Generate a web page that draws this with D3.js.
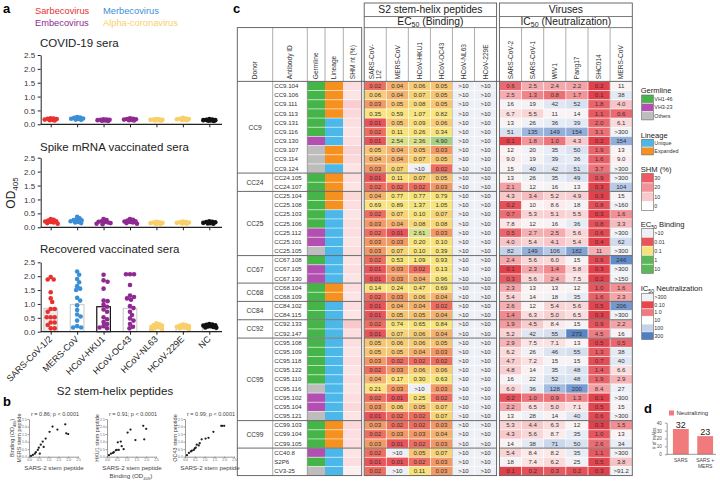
<!DOCTYPE html>
<html><head><meta charset="utf-8">
<script src="https://cdn.jsdelivr.net/npm/d3@7"></script>
<style>
body{margin:0;background:#fff;}
svg{font-family:"Liberation Sans",Arial,sans-serif;}
</style></head><body>
<svg id="c" width="720" height="484"></svg>
<script>
// ================= DATA =================
// Panel a
const catsA = ["SARS-CoV-1/2","MERS-CoV","HCoV-HKU1","HCoV-OC43","HCoV-NL63","HCoV-229E","NC"];
const covidSARS = [0.22,0.20,0.19,0.17,0.16,0.15,0.14,0.21];
const covidMERS = [0.26,0.23,0.21,0.19,0.17,0.16,0.24,0.20];
const covidHKU1 = [0.18,0.16,0.15,0.14,0.13,0.17,0.12,0.16];
const covidOC43 = [0.22,0.20,0.18,0.16,0.15,0.14,0.19,0.17];
const covidNL63 = [0.19,0.17,0.16,0.15,0.14,0.13,0.18,0.16];
const covid229E = [0.23,0.21,0.19,0.17,0.16,0.15,0.20,0.18];
const covidNC   = [0.19,0.17,0.15,0.14,0.13,0.12,0.16,0.15];
const spikeSARS = [0.30,0.27,0.24,0.21,0.19,0.17,0.15,0.13,0.22];
const spikeMERS = [0.38,0.32,0.28,0.25,0.22,0.19,0.17,0.15,0.26];
const spikeHKU1 = [0.30,0.26,0.22,0.19,0.17,0.15,0.13,0.11,0.20];
const spikeOC43 = [0.30,0.27,0.24,0.21,0.19,0.17,0.15,0.13,0.22];
const spikeNL63 = [0.20,0.18,0.16,0.15,0.14,0.13,0.12,0.17];
const spike229E = [0.21,0.19,0.17,0.16,0.15,0.14,0.13,0.18];
const spikeNC   = [0.22,0.20,0.18,0.16,0.15,0.14,0.13,0.19];
const recSARS = [1.97,1.88,1.88,1.42,1.20,1.07,0.82,0.82,0.72,0.52,0.52,0.52,0.33,0.33,0.24,0.12,0.12];
const recMERS = [2.17,2.05,1.90,1.78,1.64,1.55,1.50,1.22,1.12,0.95,0.78,0.62,0.55,0.40,0.20,0.15,0.15];
const recHKU1 = [2.05,1.85,1.80,1.55,1.12,1.10,0.98,0.90,0.80,0.72,0.52,0.45,0.35,0.28,0.20,0.15,0.12];
const recOC43 = [2.07,2.07,2.07,1.68,1.30,1.25,1.20,1.15,0.92,0.85,0.72,0.60,0.48,0.40,0.28,0.18,0.12];
const recNL63 = [0.30,0.27,0.24,0.22,0.20,0.18,0.15,0.12,0.10,0.08];
const rec229E = [0.26,0.24,0.22,0.20,0.18,0.16,0.14,0.12,0.10];
const recNC   = [0.28,0.26,0.25,0.23,0.22,0.20,0.19,0.17,0.15,0.14];
const recBars = [0.84,0.98,0.90,0.84,0.12,0.10,0.17];
const yTicksA = [0,0.5,1,1.5,2,2.5];

// Panel b
const bSARS2 = [0.10,0.20,0.30,0.35,0.45,0.50,0.55,0.60,0.70,0.75,0.85,1.05,1.20,1.45,1.85,1.90,2.00];
const bMERS  = [0.05,0.12,0.20,0.30,0.45,0.60,0.20,0.80,1.00,0.65,1.20,1.65,2.00,1.80,2.15,1.55,1.50];
const bHKU1  = [0.10,0.20,0.25,0.30,0.42,0.45,0.95,0.45,1.00,0.70,0.50,1.60,1.80,1.10,2.05,1.15,1.85];
const bOC43  = [0.10,0.25,0.35,0.40,0.45,0.55,0.60,0.80,0.75,0.90,1.15,1.20,1.25,1.65,2.05,2.05,2.05];
const bTitles = ["r = 0.86; p < 0.0001","r = 0.91; p < 0.0001","r = 0.99; p < 0.0001"];
const bYLabels = ["MERS stem peptide","HKU1 stem peptide","OC43 stem peptide"];

// Panel c
const donorNames = ["CC9","CC24","CC25","CC67","CC68","CC84","CC92","CC95","CC99",""];
const donorSizes = [10,2,7,3,2,2,2,9,3,3];
const antibodyIds = ["CC9.104","CC9.106","CC9.111","CC9.113","CC9.131","CC9.116","CC9.130","CC9.107","CC9.114","CC9.124",
 "CC24.105","CC24.107",
 "CC25.104","CC25.108","CC25.103","CC25.106","CC25.112","CC25.101","CC25.105",
 "CC67.108","CC67.105","CC67.130",
 "CC68.104","CC68.109",
 "CC84.102","CC84.115",
 "CC92.133","CC92.147",
 "CC95.108","CC95.109","CC95.118","CC95.122","CC95.110","CC95.116","CC95.102","CC95.104","CC95.121",
 "CC99.103","CC99.104","CC99.105",
 "CC40.8","S2P6","CV3-25"];
const germline = ["VH1-46","VH1-46","VH1-46","VH1-46","VH1-46","VH1-46","VH3-23","Others","Others","Others",
 "VH1-46","VH1-46",
 "VH1-46","VH1-46","VH1-46","VH1-46","VH3-23","VH3-23","Others",
 "VH1-46","VH3-23","VH3-23",
 "VH1-46","VH1-46",
 "VH1-46","VH1-46",
 "VH1-46","VH1-46",
 "VH1-46","VH1-46","VH1-46","VH1-46","VH1-46","Others","VH3-23","VH3-23","Others",
 "VH1-46","VH1-46","VH1-46",
 "VH3-23","VH1-46","Others"];
const lineage = ["Expanded","Expanded","Expanded","Expanded","Unique","Unique","Unique","Expanded","Expanded","Unique",
 "Expanded","Expanded",
 "Expanded","Expanded","Unique","Unique","Unique","Unique","Unique",
 "Unique","Unique","Unique",
 "Expanded","Expanded",
 "Unique","Unique",
 "Unique","Unique",
 "Unique","Unique","Unique","Unique","Unique","Unique","Unique","Unique","Unique",
 "Expanded","Expanded","Expanded",
 "Unique","Unique","Unique"];
const shm = [6,5,9,7,6,5,6,8,7,5, 6,5, 7,6,5,6,6,5,6, 5,6,5, 6,5, 6,5, 10,6, 6,5,6,5,6,5,6,7,5, 7,6,6, 5,6,3];
const ec50Cols = ["SARS-CoV-1/2","MERS-CoV","HCoV-HKU1","HCoV-OC43","HCoV-NL63","HCoV-229E"];
const ec50SARS = ["0.02","0.06","0.03","0.35","0.01","0.02","0.01","0.05","0.04","0.03","0.01","0.02","0.04","0.69","0.02","0.03","0.02","0.03","0.03","0.02","0.01","0.01","0.14","0.02","0.01","0.01","0.02","0.01","0.05","0.05","0.03","0.02","0.04","0.21","0.02","0.03","0.01","0.03","0.02","0.03","0.02","0.01","0.02"];
const ec50MERS = ["0.04","0.04","0.05","0.59","0.05","0.11","2.54","0.04","0.04","0.07","0.11","0.02","0.77","0.89","0.07","0.04","0.01","0.03","0.07","0.53","0.03","0.03","0.24","0.03","0.04","0.05","0.74","0.07","0.06","0.05","0.02","0.03","0.17","0.03","0.01","0.06","0.02","0.02","0.03","0.01",">10","0.01",">10"];
const ec50HKU1 = ["0.06","0.07","0.08","1.07","0.09","0.26","2.36","0.05","0.07",">10","0.07","0.02","0.77","1.37","0.10","0.08","2.61","0.20","0.10","1.09","0.02","0.04","0.47","0.06","0.04","0.05","0.65","0.06","0.06","0.04","0.02","0.06","0.30",">10","0.25","0.05","0.02","0.02","0.03","0.02","0.05","0.02","0.11"];
const ec50OC43 = ["0.05","0.05","0.05","0.82","0.06","0.34","4.90","0.03","0.05","0.02","0.05","0.03","0.79","1.05","0.07","0.08","0.03","0.10","0.39","0.93","0.13","0.96","0.69","0.04","0.02","0.04","0.84","0.04","0.05","0.03","0.02","0.06","0.63","0.03","0.02","0.07","0.07","0.03","0.04","0.03","0.07","0.03","0.03"];
const ec50NL63 = [">10",">10",">10",">10",">10",">10",">10",">10",">10",">10",">10",">10",">10",">10",">10",">10",">10",">10",">10",">10",">10",">10",">10",">10",">10",">10",">10",">10",">10",">10",">10",">10",">10",">10",">10",">10",">10",">10",">10",">10",">10",">10",">10"];
const ec50_229E = [">10",">10",">10",">10",">10",">10",">10",">10",">10",">10",">10",">10",">10",">10",">10",">10",">10",">10",">10",">10",">10",">10",">10",">10",">10",">10",">10",">10",">10",">10",">10",">10",">10",">10",">10",">10",">10",">10",">10",">10",">10",">10",">10"];
const icCols = ["SARS-CoV-2","SARS-CoV-1","WIV1","Pang17","SHC014","MERS-CoV"];
const icSARS2 = ["0.6","2.5","16","6.7","13","51","0.1","12","9.0","15","13","2.1","4.3","0.2","0.7","7.8","0.5","4.0","82","2.4","0.1","0.3","2.3","5.4","2.6","1.4","1.9","5.2","2.9","6.2","4.7","4.8","16","6.0","0.2","2.2","13","5.3","4.3","14","5.4","18","0.1"];
const icSARS1 = ["2.5","1.3","19","5.5","26","135","1.8","20","19","40","26","12","3.4","10","5.3","12","2.7","5.4","149","5.6","2.3","5.6","13","14","12","6.3","4.5","42","7.5","26","7.2","14","22","36","1.0","6.5","28","4.4","5.6","38","8.4","7.4","0.2"];
const icWIV1  = ["2.4","0.8","42","11","36","149","1.0","35","39","42","35","16","5.2","8.6","5.1","16","2.5","4.1","106","6.0","1.4","2.4","13","18","5.4","5.0","8.4","55","7.1","46","15","35","52","128","0.9","5.0","14","6.3","8.7","71","8.2","6.2","0.3"];
const icPang17= ["2.2","1.7","52","14","39","154","4.3","50","36","51","49","13","4.9","18","5.5","36","5.6","5.4","182","15","5.8","7.5","12","35","5.6","6.5","15","273","13","55","15","48","48","200","1.3","7.1","40","12","35","50","35","25","0.2"];
const icSHC014= ["0.2","0.1","1.8","1.1","2.0","3.1","0.2","1.9","1.6","3.7","0.9","0.3","0.3","0.8","0.3","0.8","0.6","0.4","11","0.6","0.3","0.2","1.0","1.6","0.5","0.3","0.9","4.5","0.5","1.3","0.7","1.4","1.9","8.4","0.1","0.5","0.6","0.3","1.0","2.6","1.1","0.5","0.3"];
const icMERS  = ["11","38","4.0","0.6","6.1",">300","154","13","9.0",">300",">300","104","15",">160","1.6","3.3",">300","62",">300","246",">300",">150","1.6","2.3","206",">300","2.2","16","0.5","38","40","6.6","2.9","27",">300","15",">300","1.5","13","34",">300","3.8",">91.2"];
const germLabels = ["VH1-46","VH3-23","Others"];
const linLabels = ["Unique","Expanded"];
const shmLegend = [30,20,10,0];
const ec50Legend = [">10","0.01","0.1","1","10"];
const icLegend = [">300","0.10","1.0","10","100","300"];

// Panel d
const dCats = ["SARS","SARS + MERS"];
const dVals = [32,23];
const dTicks = [0,10,20,30,40];

// ================= STYLE =================
const colA = ["#e8312f","#3b8fd6","#8e2a91","#8e2a91","#f9cf6a","#f9cf6a","#111111"];
const germColor = {"VH1-46":"#46b549","VH3-23":"#b24fb1","Others":"#bdbdbd"};
const linColor = {"Unique":"#4cb8ea","Expanded":"#f6901e"};
const ec50Scale = d3.scaleLog().domain([0.01,0.02,0.03,0.05,0.1,1.2,2.5,5]).range(["#e9545a","#ee6e60","#f29a66","#f6c674","#f8e27c","#f7e57e","#d9e08c","#a6d082"]).clamp(true);
const icScale = d3.scaleLog().domain([0.1,1,3,10,30,100,300]).range(["#e2404a","#ed767c","#f6b6b9","#fcf3f3","#eef1f7","#bccde8","#4e7ec2"]).clamp(true);
const shmScale = d3.scaleLinear().domain([0,30]).range(["#ffffff","#ee5a64"]);
const ec50LegendColors = ["#eef0f5","#e9545a","#f8e27c","#5db75a","#5db75a"];
const icLegendColors = ["#f1f2f5","#e8454f","#ef7a80","#ffffff","#c5d3ea","#4f7fc2"];
const txt = "#222";

const svg = d3.select("#c");

// ================= PANEL A =================
function swarm(vals, cx, y, minD, maxOff){
  const pts = vals.map(v=>({v, y:y(v)})).sort((a,b)=>b.v-a.v);
  const placed=[]; const step=0.5;
  pts.forEach(p=>{
    let bestX=cx, bestD=-1;
    const n = Math.round(2*maxOff/step);
    for(let k=0;k<=n;k++){
      const off = k===0?0:(k%2?1:-1)*Math.ceil(k/2)*step;
      const x = cx+off;
      const d = placed.length? d3.min(placed,q=>Math.hypot(q.x-x,q.y-p.y)) : Infinity;
      if(d>=minD){bestX=x;bestD=d;break;}
      if(d>bestD){bestD=d;bestX=x;}
    }
    p.x=bestX; placed.push(p);
  });
  return pts;
}
svg.append("text").attr("x",3).attr("y",13).attr("font-size",13).attr("font-weight","bold").text("a");
const legA = [["Sarbecovirus",35,14,colA[0]],["Merbecovirus",103,14,colA[1]],["Embecovirus",35,26,colA[2]],["Alpha-coronavirus",103,26,colA[4]]];
legA.forEach(l=>svg.append("text").attr("x",l[1]).attr("y",l[2]).attr("font-size",9.3).attr("fill",l[3]).text(l[0]));

const xA = d3.scalePoint().domain(catsA).range([50.7,209.3]);
const panelsA = [
 {title:"COVID-19 sera", ty:47, top:55, bottom:124.3, data:[covidSARS,covidMERS,covidHKU1,covidOC43,covidNL63,covid229E,covidNC]},
 {title:"Spike mRNA vaccinated sera", ty:151, top:157.7, bottom:227.3, data:[spikeSARS,spikeMERS,spikeHKU1,spikeOC43,spikeNL63,spike229E,spikeNC]},
 {title:"Recovered vaccinated sera", ty:253, top:262.3, bottom:331.7, data:[recSARS,recMERS,recHKU1,recOC43,recNL63,rec229E,recNC], bars:recBars}
];
const rA = 2.3;
panelsA.forEach(p=>{
  const y = d3.scaleLinear().domain([0,2.5]).range([p.bottom,p.top]);
  const g = svg.append("g");
  g.append("text").attr("x",40).attr("y",p.ty).attr("font-size",11.5).attr("fill",txt).text(p.title);
  if(p.bars){
    g.selectAll(null).data(p.bars).join("rect")
      .attr("x",(d,i)=>xA(catsA[i])-6.8).attr("width",13.6)
      .attr("y",d=>y(d)).attr("height",d=>p.bottom-y(d))
      .attr("fill",(d,i)=>i===0?"#ececec":"none")
      .attr("stroke",(d,i)=>i===2?"#111":"#cfcfcf").attr("stroke-width",1.2);
  }
  p.data.forEach((vals,ci)=>{
    const low = d3.max(vals)<0.5;
    const pts = swarm(vals, xA(catsA[ci]), y, low?rA*1.2:rA*1.65, low?7:10);
    g.selectAll(null).data(pts).join("circle").attr("cx",d=>d.x).attr("cy",d=>d.y).attr("r",rA).attr("fill",colA[ci]);
  });
  const ya = g.append("g").attr("transform","translate(40.7,0)")
    .call(d3.axisLeft(y).tickValues(yTicksA).tickFormat(d3.format(".1f")).tickSize(3).tickSizeOuter(0));
  ya.selectAll("text").attr("font-size",8).attr("fill","#333").attr("dx",0.5);
  ya.selectAll("line,path").attr("stroke","#222").attr("stroke-width",1);
  g.append("line").attr("x1",40.7).attr("x2",222).attr("y1",p.bottom).attr("y2",p.bottom).attr("stroke","#222").attr("stroke-width",1.2);
  const xa = g.append("g").attr("transform",`translate(0,${p.bottom})`)
    .call(d3.axisBottom(xA).tickSize(3).tickFormat(""));
  xa.select(".domain").remove();
  xa.selectAll("line").attr("stroke","#222").attr("stroke-width",1);
  if(p.bars){
    catsA.forEach(c=>{
      svg.append("text").attr("transform",`translate(${xA(c)+2},${p.bottom+8}) rotate(-45)`)
        .attr("text-anchor","end").attr("font-size",9).attr("fill",txt).text(c);
    });
  }
});
const odl = svg.append("text").attr("transform","translate(15,193) rotate(-90)").attr("text-anchor","middle").attr("font-size",12).attr("fill",txt);
odl.append("tspan").text("OD");
odl.append("tspan").attr("font-size",8).attr("dy",3).text("405");
svg.append("text").attr("x",115).attr("y",395).attr("text-anchor","middle").attr("font-size",11.5).attr("fill",txt).text("S2 stem-helix peptides");

// ================= PANEL B =================
svg.append("text").attr("x",3).attr("y",406).attr("font-size",13).attr("font-weight","bold").text("b");
const bLefts = [29,107,185];
const bYs = [bMERS,bHKU1,bOC43];
bLefts.forEach((L,i)=>{
  const x = d3.scaleLinear().domain([0,2.5]).range([L,L+49]);
  const y = d3.scaleLinear().domain([0,2.5]).range([456.7,419]);
  const g = svg.append("g");
  const xa = g.append("g").attr("transform","translate(0,456.7)").call(d3.axisBottom(x).tickValues(yTicksA).tickFormat(d3.format(".1f")).tickSize(1.5).tickSizeOuter(0));
  const ya = g.append("g").attr("transform",`translate(${L},0)`).call(d3.axisLeft(y).tickValues(yTicksA).tickFormat(d3.format(".1f")).tickSize(1.5).tickSizeOuter(0));
  [xa,ya].forEach(a=>{a.selectAll("text").attr("font-size",3.4).attr("fill","#666");a.selectAll("line,path").attr("stroke","#555").attr("stroke-width",0.6);});
  xa.selectAll("text").attr("y",2.2).attr("dy","0.71em");
  ya.selectAll("text").attr("x",-2.2);
  g.selectAll(null).data(bSARS2).join("circle").attr("cx",d=>x(d)).attr("cy",(d,j)=>y(bYs[i][j])).attr("r",1.15).attr("fill","#222");
  g.append("text").attr("x",L+26).attr("y",416).attr("text-anchor","middle").attr("font-size",5.5).attr("fill","#444").text(bTitles[i]);
  g.append("text").attr("transform",`translate(${L-8},438) rotate(-90)`).attr("text-anchor","middle").attr("font-size",5.5).attr("fill","#444").text(bYLabels[i]);
  g.append("text").attr("x",L+25).attr("y",469.5).attr("text-anchor","middle").attr("font-size",6.2).attr("fill","#444").text("SARS-2 stem peptide");
});
const bl1 = svg.append("text").attr("transform","translate(14,438) rotate(-90)").attr("text-anchor","middle").attr("font-size",5.5).attr("fill","#444");
bl1.append("tspan").text("Binding (OD"); bl1.append("tspan").attr("font-size",3.8).attr("dy",1.5).text("405"); bl1.append("tspan").attr("dy",-1.5).text(")");
const bl2 = svg.append("text").attr("x",131).attr("y",478).attr("text-anchor","middle").attr("font-size",6.2).attr("fill","#444");
bl2.append("tspan").text("Binding (OD"); bl2.append("tspan").attr("font-size",4.2).attr("dy",1.5).text("405"); bl2.append("tspan").attr("dy",-1.5).text(")");

// ================= PANEL C =================
svg.append("text").attr("x",233).attr("y",13).attr("font-size",13).attr("font-weight","bold").text("c");
const rowTop=81.4, rowBot=475.6, hdrTop=27.6, boxTop=3, midLine=16.5;
const yR = d3.scaleBand().domain(antibodyIds).range([rowTop,rowBot]);
const rh = yR.bandwidth();
const xE = d3.scaleBand().domain(ec50Cols).range([364.2,496.6]);
const xV = d3.scaleBand().domain(icCols).range([499.4,632.3]);
const leftEdges = [237.3,272.7,307.3,325,343.3,361.7];
const leftHdr = ["Donor","Antibody ID","Germline","Lineage","SHM nt (%)"];
const gc = svg.append("g");

function parseV(s){return s.startsWith(">")?null:+s;}
antibodyIds.forEach((id,i)=>{
  const y0 = yR(id);
  gc.append("rect").attr("x",leftEdges[2]).attr("y",y0).attr("width",leftEdges[3]-leftEdges[2]).attr("height",rh).attr("fill",germColor[germline[i]]);
  gc.append("rect").attr("x",leftEdges[3]).attr("y",y0).attr("width",leftEdges[4]-leftEdges[3]).attr("height",rh).attr("fill",linColor[lineage[i]]);
  gc.append("rect").attr("x",leftEdges[4]).attr("y",y0).attr("width",leftEdges[5]-leftEdges[4]).attr("height",rh).attr("fill",shmScale(shm[i]));
  gc.append("line").attr("x1",leftEdges[2]).attr("x2",leftEdges[5]).attr("y1",y0).attr("y2",y0).attr("stroke","#fff").attr("stroke-width",0.7).attr("opacity",0.8);
  gc.append("text").attr("x",274.3).attr("y",y0+rh/2+2.1).attr("font-size",6.1).attr("fill","#333").text(id);
});
const ec50Data = [ec50SARS,ec50MERS,ec50HKU1,ec50OC43,ec50NL63,ec50_229E];
ec50Data.forEach((arr,ci)=>{
  const x0 = xE(ec50Cols[ci]), w = xE.bandwidth();
  arr.forEach((s,i)=>{
    const v = parseV(s), y0=yR(antibodyIds[i]);
    gc.append("rect").attr("x",x0+0.35).attr("y",y0+0.35).attr("width",w-0.7).attr("height",rh-0.7)
      .attr("fill",v===null?"#eef0f5":ec50Scale(v));
    gc.append("text").attr("x",x0+w/2).attr("y",y0+rh/2+2.1).attr("text-anchor","middle").attr("font-size",6.1).attr("fill","#333").text(s);
  });
});
const icData = [icSARS2,icSARS1,icWIV1,icPang17,icSHC014,icMERS];
icData.forEach((arr,ci)=>{
  const x0 = xV(icCols[ci]), w = xV.bandwidth();
  arr.forEach((s,i)=>{
    const v = parseV(s), y0=yR(antibodyIds[i]);
    const fill = v===null?"#f2f3f6":icScale(icCols[ci]==="SHC014"? v*0.25 : v);
    gc.append("rect").attr("x",x0+0.35).attr("y",y0+0.35).attr("width",w-0.7).attr("height",rh-0.7).attr("fill",fill);
    gc.append("text").attr("x",x0+w/2).attr("y",y0+rh/2+2.1).attr("text-anchor","middle").attr("font-size",6.1).attr("fill","#333").text(s);
  });
});
let acc=0;
const lineCol="#5a5a5a";
donorSizes.forEach((n,k)=>{
  const yTop = yR(antibodyIds[acc]);
  const yB = yTop + n*rh;
  gc.append("text").attr("x",(leftEdges[0]+leftEdges[1])/2).attr("y",(yTop+yB)/2+2.3).attr("text-anchor","middle").attr("font-size",6.6).attr("fill","#333").text(donorNames[k]);
  if(k<donorSizes.length-1){
    [[leftEdges[0],leftEdges[5]],[364.2,496.6],[499.4,632.3]].forEach(([a,b])=>
      gc.append("line").attr("x1",a).attr("x2",b).attr("y1",yB).attr("y2",yB).attr("stroke",lineCol).attr("stroke-width",0.9));
  }
  acc+=n;
});
const boxStyle = s=>s.attr("fill","none").attr("stroke",lineCol).attr("stroke-width",0.9);
boxStyle(gc.append("rect").attr("x",leftEdges[0]).attr("y",hdrTop).attr("width",leftEdges[5]-leftEdges[0]).attr("height",rowBot-hdrTop));
boxStyle(gc.append("rect").attr("x",364.2).attr("y",boxTop).attr("width",496.6-364.2).attr("height",rowBot-boxTop));
boxStyle(gc.append("rect").attr("x",499.4).attr("y",boxTop).attr("width",632.3-499.4).attr("height",rowBot-boxTop));
[[364.2,496.6],[499.4,632.3]].forEach(([a,b])=>{
  [midLine,hdrTop].forEach(yy=>gc.append("line").attr("x1",a).attr("x2",b).attr("y1",yy).attr("y2",yy).attr("stroke",lineCol).attr("stroke-width",0.8));
});
gc.append("line").attr("x1",leftEdges[0]).attr("x2",632.3).attr("y1",rowTop).attr("y2",rowTop).attr("stroke",lineCol).attr("stroke-width",0.9);
const hdrV = [...leftEdges.slice(1,5), ...ec50Cols.slice(1).map(c=>xE(c)), ...icCols.slice(1).map(c=>xV(c))];
hdrV.forEach(x=>gc.append("line").attr("x1",x).attr("x2",x).attr("y1",hdrTop).attr("y2",rowTop).attr("stroke","#777").attr("stroke-width",0.6));
[leftEdges[1],leftEdges[2]].forEach(x=>gc.append("line").attr("x1",x).attr("x2",x).attr("y1",rowTop).attr("y2",rowBot).attr("stroke","#777").attr("stroke-width",0.6));
[xE("HCoV-NL63"),xV("MERS-CoV")].forEach(x=>gc.append("line").attr("x1",x).attr("x2",x).attr("y1",rowTop).attr("y2",rowBot).attr("stroke","#999").attr("stroke-width",0.5));
function rotLabel(cx,lines){
  lines.forEach((t,j)=>{
    const off = (j-(lines.length-1)/2)*7;
    gc.append("text").attr("transform",`translate(${cx+2.2+off},${rowTop-2.2}) rotate(-90)`).attr("font-size",6.6).attr("fill","#333").text(t);
  });
}
leftHdr.forEach((h,i)=>rotLabel((leftEdges[i]+leftEdges[i+1])/2,[h]));
ec50Cols.forEach(c=>rotLabel(xE(c)+xE.bandwidth()/2, c==="SARS-CoV-1/2"?["SARS-CoV-","1/2"]:[c]));
icCols.forEach(c=>rotLabel(xV(c)+xV.bandwidth()/2,[c]));
gc.append("text").attr("x",(364.2+496.6)/2).attr("y",13.3).attr("text-anchor","middle").attr("font-size",10.3).attr("fill","#222").text("S2 stem-helix peptides");
gc.append("text").attr("x",(499.4+632.3)/2).attr("y",13.3).attr("text-anchor","middle").attr("font-size",10.3).attr("fill","#222").text("Viruses");
function subTitle(g,x,y,pre,sub,post,fs,anchor){
  const t=g.append("text").attr("x",x).attr("y",y).attr("text-anchor",anchor).attr("font-size",fs).attr("fill","#222");
  t.append("tspan").text(pre); t.append("tspan").attr("font-size",fs*0.68).attr("dy",fs*0.2).text(sub); t.append("tspan").attr("dy",-fs*0.2).text(post);
}
subTitle(gc,(364.2+496.6)/2,25.3,"EC","50"," (Binding)",10.3,"middle");
subTitle(gc,(499.4+632.3)/2,25.3,"IC","50"," (Neutralization)",10.3,"middle");

// ================= LEGENDS =================
const lx=641.7, lw=11.6;
function legend(title,ty,top,h,labels,colors,useSub){
  if(useSub) subTitle(svg,lx-1,ty,title[0],title[1],title[2],7.6,"start");
  else svg.append("text").attr("x",lx-1).attr("y",ty).attr("font-size",7.6).attr("fill","#222").text(title);
  labels.forEach((l,i)=>{
    svg.append("rect").attr("x",lx).attr("y",top+i*h).attr("width",lw).attr("height",h).attr("fill",colors[i]);
    if(i>0) svg.append("line").attr("x1",lx).attr("x2",lx+lw).attr("y1",top+i*h).attr("y2",top+i*h).attr("stroke","#fff").attr("stroke-width",0.6);
    svg.append("text").attr("x",lx+lw+1).attr("y",top+i*h+h/2+1.9).attr("font-size",5.4).attr("fill","#333").text(l);
  });
  svg.append("rect").attr("x",lx).attr("y",top).attr("width",lw).attr("height",h*labels.length).attr("fill","none").attr("stroke","#666").attr("stroke-width",0.6);
}
legend("Germline",93,95,8.3,germLabels,germLabels.map(d=>germColor[d]));
legend("Lineage",137.5,139.3,7.8,linLabels,linLabels.map(d=>linColor[d]));
legend("SHM (%)",172,173.5,9.3,shmLegend.map(String),shmLegend.map(d=>shmScale(d)));
legend(["EC","50"," Binding"],227,228.3,9,ec50Legend,ec50LegendColors,true);
legend(["IC","50"," Neutralization"],291,293.3,7.7,icLegend,icLegendColors,true);

// ================= PANEL D =================
svg.append("text").attr("x",644).attr("y",413).attr("font-size",13).attr("font-weight","bold").text("d");
const dCol = "#f07a7c";
svg.append("rect").attr("x",669).attr("y",410.5).attr("width",5).attr("height",5).attr("fill",dCol);
svg.append("text").attr("x",676.5).attr("y",415).attr("font-size",6).attr("fill","#333").text("Neutralizing");
const yD = d3.scaleLinear().domain([0,40]).range([454.3,422.7]);
const xD = d3.scaleBand().domain(dCats).range([670,716]).paddingInner(0.35).paddingOuter(0.12);
svg.selectAll(null).data(dVals).join("rect").attr("x",(d,i)=>xD(dCats[i])).attr("width",xD.bandwidth())
  .attr("y",d=>yD(d)).attr("height",d=>454.3-yD(d)).attr("fill",dCol);
svg.selectAll(null).data(dVals).join("text").attr("x",(d,i)=>xD(dCats[i])+xD.bandwidth()/2).attr("y",d=>yD(d)-1.5)
  .attr("text-anchor","middle").attr("font-size",9).attr("fill","#222").text(d=>d);
const ydA = svg.append("g").attr("transform","translate(666.7,0)").call(d3.axisLeft(yD).tickValues(dTicks).tickSize(1.8).tickSizeOuter(0));
ydA.selectAll("text").attr("font-size",4.6).attr("fill","#555");
ydA.selectAll("line,path").attr("stroke","#555").attr("stroke-width",0.6);
svg.append("line").attr("x1",666.7).attr("x2",716).attr("y1",454.3).attr("y2",454.3).attr("stroke","#555").attr("stroke-width",0.6);
svg.append("text").attr("transform","translate(656,438.5) rotate(-90)").attr("text-anchor","middle").attr("font-size",4.8).attr("fill","#555").text("# of mAbs");
dCats.forEach(c=>{
  const cx = xD(c)+xD.bandwidth()/2;
  const parts = c==="SARS + MERS"?["SARS +","MERS"]:[c];
  parts.forEach((p,j)=>svg.append("text").attr("x",cx).attr("y",462+j*5.6).attr("text-anchor","middle").attr("font-size",5).attr("fill","#444").text(p));
});
</script></body></html>
